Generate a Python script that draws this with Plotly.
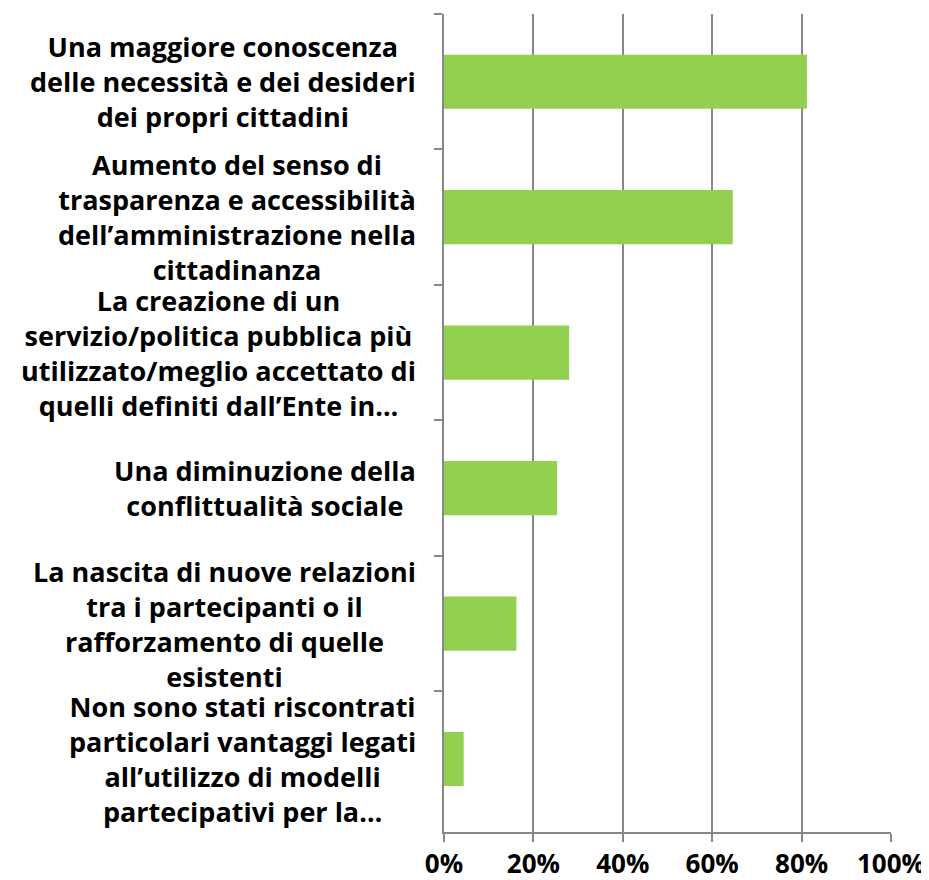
import plotly.graph_objects as go

# Vantaggi dei modelli partecipativi (quota rispondenti)
categories = [
    "Una maggiore conoscenza<br>delle necessità e dei desideri<br>dei propri cittadini",
    "Aumento del senso di<br>trasparenza e accessibilità<br>dell’amministrazione nella<br>cittadinanza",
    "La creazione di un<br>servizio/politica pubblica più<br>utilizzato/meglio accettato di<br>quelli definiti dall’Ente in…",
    "Una diminuzione della<br>conflittualità sociale",
    "La nascita di nuove relazioni<br>tra i partecipanti o il<br>rafforzamento di quelle<br>esistenti",
    "Non sono stati riscontrati<br>particolari vantaggi legati<br>all’utilizzo di modelli<br>partecipativi per la…",
]
values = [0.812, 0.646, 0.280, 0.253, 0.162, 0.044]
x_ticks = [0, 0.2, 0.4, 0.6, 0.8, 1.0]

font_family = "Open Sans, Liberation Sans, sans-serif"

fig = go.Figure()
fig.add_trace(go.Bar(
    x=values, y=categories, orientation="h",
    marker=dict(color="#92D050", line=dict(width=0)),
))

# centred multi-line category labels
for cat in categories:
    fig.add_annotation(
        x=0, xref="paper", y=cat, yref="y",
        text=f"<b>{cat}</b>", showarrow=False,
        xanchor="right", yanchor="middle", align="center", xshift=-26,
        font=dict(family=font_family, size=27, color="black"),
    )

# page body adds an 8px offset, so the figure is 8px smaller each way
fig.update_layout(
    width=921, height=872,
    margin=dict(l=436, r=38, t=6, b=48),
    paper_bgcolor="white", plot_bgcolor="white",
    showlegend=False, bargap=0.6,
    font=dict(family=font_family, color="black"),
)
fig.update_xaxes(
    range=[0, 1], tickvals=x_ticks, tickformat=".0%",
    showgrid=True, gridcolor="#878787", gridwidth=1.5,
    showline=True, linecolor="#878787", linewidth=1.5,
    ticks="outside", ticklen=8, tickcolor="#878787", tickwidth=1.5,
    tickfont=dict(family=font_family, size=26, color="black", weight="bold"),
    zeroline=False, automargin=False,
)
fig.update_yaxes(
    autorange="reversed", showticklabels=False,
    tickson="boundaries", ticks="outside", ticklen=8,
    tickcolor="#878787", tickwidth=1.5,
    showline=True, linecolor="#878787", linewidth=1.5,
    showgrid=False, automargin=False,
)

fig.write_html("out.html")
